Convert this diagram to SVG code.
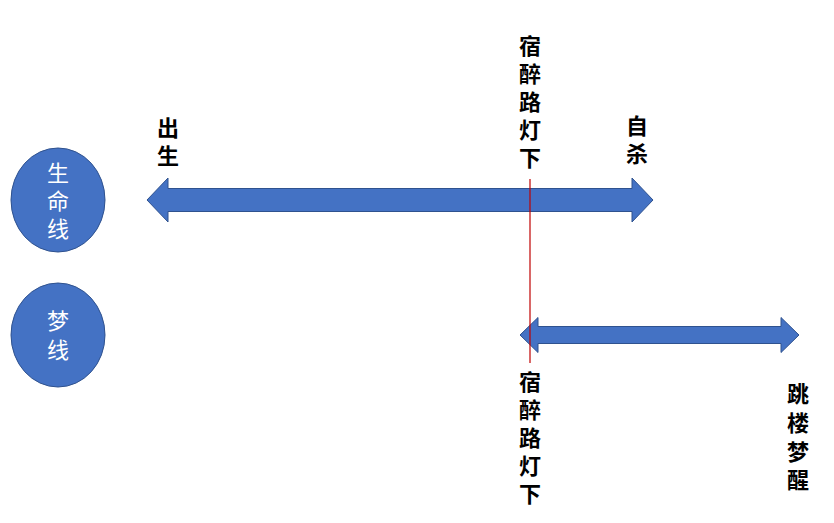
<svg xmlns="http://www.w3.org/2000/svg" width="834" height="523" viewBox="0 0 834 523">
<style>
.node{fill:#4472C4;stroke:#2F528F;stroke-width:1}
.arrow{fill:#4472C4;stroke:#2F528F;stroke-width:1}
.lbl{font-family:"Noto Sans CJK SC","Noto Sans",sans-serif;font-size:22px;font-weight:bold;fill:#000;writing-mode:vertical-rl;text-orientation:upright;letter-spacing:6px;dominant-baseline:central;text-anchor:start}
.ntxt{font-family:"Noto Sans CJK SC","Noto Sans",sans-serif;font-size:22px;fill:#fff;writing-mode:vertical-rl;text-orientation:upright;letter-spacing:6px;dominant-baseline:central;text-anchor:start}
</style>
<rect width="834" height="523" fill="#fff"/>
<g id="node-life">
<ellipse class="node" cx="58" cy="200" rx="47" ry="52"/>
<text class="ntxt" x="58" y="162">生命线</text>
</g>
<g id="node-dream">
<ellipse class="node" cx="58" cy="335" rx="47" ry="52"/>
<text class="ntxt" x="58" y="310" style="letter-spacing:7px">梦线</text>
</g>
<g id="connectors">
<polygon class="arrow" points="147,200 168,178 168,188.5 632,188.5 632,178 653,200 632,222 632,211.5 168,211.5 168,222"/>
<polygon class="arrow" points="520,335 538,317.5 538,326.5 781,326.5 781,317.5 799,335 781,352.5 781,343.5 538,343.5 538,352.5"/>
<line x1="530" y1="179" x2="530" y2="363" stroke="#C00000" stroke-width="1.2"/>
</g>
<g id="labels">
<text class="lbl" x="168" y="117">出生</text>
<text class="lbl" x="637" y="115">自杀</text>
<text class="lbl" x="530" y="35">宿醉路灯下</text>
<text class="lbl" x="530" y="371">宿醉路灯下</text>
<text class="lbl" x="798" y="383" style="letter-spacing:6.7px">跳楼梦醒</text>
</g>
</svg>
